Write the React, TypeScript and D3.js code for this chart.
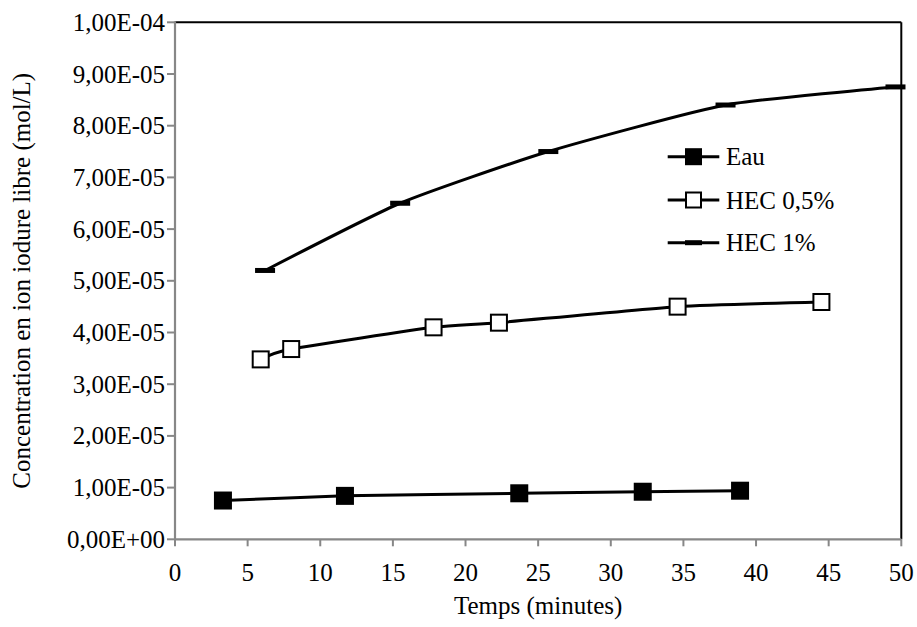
import React from "react";
import * as d3 from "d3";

const xTicks = [0, 5, 10, 15, 20, 25, 30, 35, 40, 45, 50];
const yTicks = [0, 1e-5, 2e-5, 3e-5, 4e-5, 5e-5, 6e-5, 7e-5, 8e-5, 9e-5, 1e-4];
const yTickLabels = [
  "0,00E+00", "1,00E-05", "2,00E-05", "3,00E-05", "4,00E-05", "5,00E-05",
  "6,00E-05", "7,00E-05", "8,00E-05", "9,00E-05", "1,00E-04",
];

const eauX = [3.3, 11.7, 23.7, 32.2, 38.9];
const eauY = [7.5e-6, 8.4e-6, 8.9e-6, 9.2e-6, 9.4e-6];
const hec05X = [5.9, 8.0, 17.8, 22.3, 34.6, 44.5];
const hec05Y = [3.48e-5, 3.68e-5, 4.1e-5, 4.19e-5, 4.5e-5, 4.59e-5];
const hec1X = [6.2, 15.5, 25.7, 37.9, 49.6];
const hec1Y = [5.2e-5, 6.5e-5, 7.5e-5, 8.4e-5, 8.75e-5];

const seriesNames = ["Eau", "HEC 0,5%", "HEC 1%"];
const xTitle = "Temps (minutes)";
const yTitle = "Concentration en ion iodure libre (mol/L)";

const W = 917, H = 627;
const L = 175, R = 901.3, T = 22.3, B = 539.3;
const FONT = "Liberation Serif, Times New Roman, DejaVu Serif, serif";
const FS = 25;
const AXIS = "#878787";

export default function App() {
  const x = d3.scaleLinear().domain([0, 50]).range([L, R]);
  const y = d3.scaleLinear().domain([0, 1e-4]).range([B, T]);
  const line = d3
    .line<[number, number]>()
    .x((d) => x(d[0]))
    .y((d) => y(d[1]))
    .curve(d3.curveCardinal.tension(0.45));

  const eau: [number, number][] = eauX.map((v, i) => [v, eauY[i]]);
  const h05: [number, number][] = hec05X.map((v, i) => [v, hec05Y[i]]);
  const h1: [number, number][] = hec1X.map((v, i) => [v, hec1Y[i]]);

  const sq = 18;
  const legX0 = 667.7, legX1 = 719.3, legTx = 726;
  const legY = [156.7, 200, 242.7];
  const legCx = (legX0 + legX1) / 2;
  const txt = { fontFamily: FONT, fontSize: FS, fill: "#000" } as React.CSSProperties;

  return (
    <svg
      width={W}
      height={H}
      style={{ position: "absolute", left: 0, top: 0, background: "#fff" }}
    >
      <rect x={0} y={0} width={W} height={H} fill="#fff" />
      <line x1={L} x2={R} y1={T} y2={T} stroke="#000" strokeWidth={2} />
      <line x1={R} x2={R} y1={T} y2={B} stroke="#000" strokeWidth={2} />
      <line x1={L} x2={L} y1={T - 1} y2={B + 1} stroke={AXIS} strokeWidth={2.2} />
      <line x1={L - 1} x2={R} y1={B} y2={B} stroke={AXIS} strokeWidth={2.2} />
      {yTicks.map((t, i) => (
        <g key={"y" + i}>
          <line x1={L - 8} x2={L} y1={y(t)} y2={y(t)} stroke={AXIS} strokeWidth={2} />
          <text x={L - 10} y={y(t) + 8.5} textAnchor="end" style={txt}>
            {yTickLabels[i]}
          </text>
        </g>
      ))}
      {xTicks.map((t, i) => (
        <g key={"x" + i}>
          <line x1={x(t)} x2={x(t)} y1={B} y2={B + 7} stroke={AXIS} strokeWidth={2} />
          <text x={x(t)} y={B + 42} textAnchor="middle" style={txt}>
            {t}
          </text>
        </g>
      ))}
      <text x={(L + R) / 2} y={614} textAnchor="middle" style={txt}>
        {xTitle}
      </text>
      <text
        transform={`translate(30, ${(T + B) / 2}) rotate(-90)`}
        textAnchor="middle"
        style={txt}
      >
        {yTitle}
      </text>

      <path d={line(eau) || ""} fill="none" stroke="#000" strokeWidth={3} />
      <path d={line(h05) || ""} fill="none" stroke="#000" strokeWidth={3} />
      <path d={line(h1) || ""} fill="none" stroke="#000" strokeWidth={3} />

      {eau.map((d, i) => (
        <rect key={"e" + i} x={x(d[0]) - sq / 2} y={y(d[1]) - sq / 2} width={sq} height={sq} fill="#000" />
      ))}
      {h05.map((d, i) => (
        <rect
          key={"h" + i}
          x={x(d[0]) - (sq - 2) / 2}
          y={y(d[1]) - (sq - 2) / 2}
          width={sq - 2}
          height={sq - 2}
          fill="#fff"
          stroke="#000"
          strokeWidth={2}
        />
      ))}
      {h1.map((d, i) => (
        <rect key={"d" + i} x={x(d[0]) - 10} y={y(d[1]) - 2.5} width={20} height={5} fill="#000" />
      ))}

      {seriesNames.map((n, i) => (
        <g key={"l" + i}>
          <line x1={legX0} x2={legX1} y1={legY[i]} y2={legY[i]} stroke="#000" strokeWidth={3} />
          {i === 0 && (
            <rect x={legCx - 8.5} y={legY[i] - 8.5} width={17} height={17} fill="#000" />
          )}
          {i === 1 && (
            <rect x={legCx - 7.5} y={legY[i] - 7.5} width={15} height={15} fill="#fff" stroke="#000" strokeWidth={2} />
          )}
          {i === 2 && (
            <rect x={legCx - 8.5} y={legY[i] - 2.5} width={17} height={5} fill="#000" />
          )}
          <text x={legTx} y={legY[i] + 8.5} style={txt}>
            {n}
          </text>
        </g>
      ))}
    </svg>
  );
}
